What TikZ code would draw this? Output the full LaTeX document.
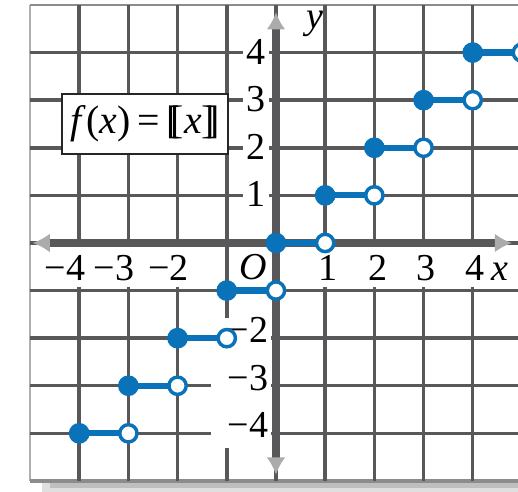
\documentclass[tikz,border=0pt]{standalone}
\usepackage{fontspec}
\setmainfont{Liberation Serif}
\usetikzlibrary{arrows.meta}
\definecolor{blu}{HTML}{0A72B8}
\definecolor{griglia}{HTML}{58585A}
\definecolor{bordo}{HTML}{8C8C8E}

\begin{document}
\begin{tikzpicture}[x=1cm, y=0.9675cm,
        every node/.style={font=\fontsize{22}{26}\selectfont},
        linea/.style={line width=2pt, color=griglia},
        asse/.style={line width=4.4pt, color=griglia},
        gradino/.style={line width=3.6pt, color=blu},
        aperto/.style={line width=2pt, draw=blu, fill=white}]
        \useasboundingbox (-5.61,-5.23) rectangle (4.92,5.105);
        \clip (-5.61,-5.23) rectangle (4.92,5.105);

        % Ombra e cornice
        \fill[gray!25] (-4.75,-5.04) rectangle (5.3,-5.25);
        \fill[gray!50] (-4.6,-5.04) rectangle (5.3,-5.14);
        \draw[line width=1.5pt, color=bordo!70] (-5,-5) -- (-5,5);
        \draw[line width=1.5pt, color=bordo] (-5,5) -- (5.3,5);
        \draw[line width=2pt, color=bordo] (-5,-5) -- (5.3,-5);

        % Griglia
        \foreach \k in {-4,...,4}{
                \draw[linea] (\k,-5) -- (\k,5);
                \draw[linea] (-5,\k) -- (5.3,\k);
            }

        % Zone bianche per le etichette
        \fill[white] (-4.96,-0.09) rectangle (4.95,-0.93);
        \fill[white] (-1.32,-1.58) rectangle (-0.1,-4.3);
        \draw[linea] (-1,0) -- (-1,-1.58);

        % Assi
        \draw[asse, {Latex[length=10pt,width=11pt,color=griglia!50]}-{Latex[length=10pt,width=11pt,color=griglia!50]}]
        (-4.95,0) -- (4.8,0);
        \draw[asse, {Latex[length=10pt,width=11pt,color=griglia!50]}-{Latex[length=10pt,width=11pt,color=griglia!50]}]
        (0,-4.87) -- (0,4.85);

        % Etichette asse x
        \foreach \p/\t/\nome in {
                1.05/1/xa,
                2.07/2/xb,
                3.05/3/xc,
                4.04/4/xd,
                -1.97/\llap{−}2/xe,
                -3.07/\llap{−}3/xf,
                -4.07/\llap{−}4/xg}{
                \node[anchor=base, inner sep=0pt] (\nome) at (\p,-0.79) {\t};
            }
        \node[anchor=base, inner sep=0pt] (ascx) at (4.55,-0.79) {\textit{x}};
        \node[anchor=base, inner sep=0pt] (orig) at (-0.47,-0.76) {\textit{O}};
        \node[inner sep=0pt] (ordy) at (0.8,4.6) {\textit{y}};

        % Etichette asse y
        \foreach \n in {1,...,4}{
                \node[fill=white, inner xsep=2pt, inner ysep=1pt] (ya\n) at (-0.41,\n+0.02) {\n};
            }
        \foreach \n in {2,3,4}{
                \node[inner sep=0pt] (yb\n) at (-0.35,-\n+0.17) {\llap{−}\n};
            }

        % Riquadro della funzione
        \node[draw=black!85, line width=1.4pt, fill=white, minimum width=3.37cm,
            minimum height=1.22cm, inner sep=0pt, font=\fontsize{23}{27}\selectfont]
        (funz) at (-2.66,2.5)
        {\textit{f}(\textit{x})\,=\,[\kern-0.22em[\textit{x}]\kern-0.22em]};

        % Gradini della parte intera
        \foreach \n in {-4,...,4}{
                \coordinate (c\n) at (\n,\n);
                \coordinate (o\n) at (\n+1,\n);
                \draw[gradino] (c\n) -- (o\n);
                \fill[blu] (c\n) circle (6pt);
                \draw[aperto] (o\n) circle (5pt);
            }
    \end{tikzpicture}
\end{document}
